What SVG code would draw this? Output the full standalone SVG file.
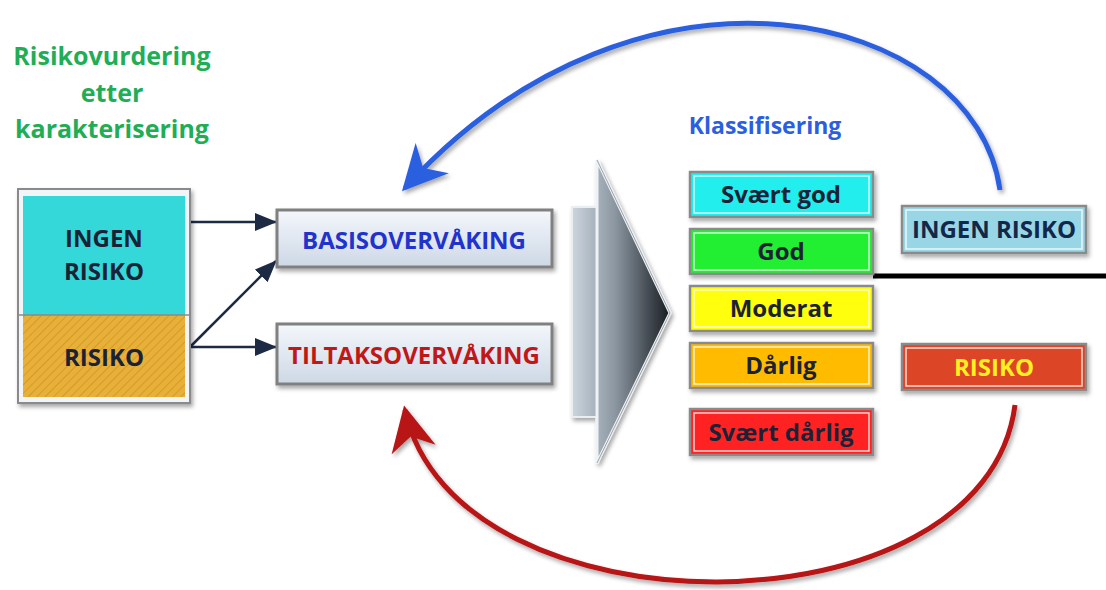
<svg xmlns="http://www.w3.org/2000/svg" width="1106" height="590" viewBox="0 0 1106 590">
<defs>
<style>
.t{font-family:"Open Sans","Noto Sans",sans-serif;font-weight:700;text-anchor:middle}
.dk{fill:#1b2236}
.cls{stroke:#8a8a8a;stroke-width:2.5}
.inner{fill:none;stroke:#ffffff;stroke-width:1.5;opacity:0.8}
.con{stroke:#1c2a44;stroke-width:2.5;fill:none}
</style>
<filter id="sh" x="-10%" y="-10%" width="130%" height="140%">
<feDropShadow dx="2" dy="3" stdDeviation="2" flood-color="#000" flood-opacity="0.35"/>
</filter>
<linearGradient id="gb" x1="0" y1="0" x2="0" y2="1">
<stop offset="0" stop-color="#f4f7fb"/>
<stop offset="1" stop-color="#cdd8e6"/>
</linearGradient>
<linearGradient id="ga" gradientUnits="userSpaceOnUse" x1="572" y1="0" x2="668" y2="0">
<stop offset="0" stop-color="#ccd5de"/>
<stop offset="0.45" stop-color="#8b96a1"/>
<stop offset="1" stop-color="#1c2126"/>
</linearGradient>
<pattern id="hatch" width="6" height="6" patternUnits="userSpaceOnUse" patternTransform="rotate(45)">
<rect width="6" height="6" fill="#e8b038"/>
<line x1="0" y1="0" x2="0" y2="6" stroke="#c99524" stroke-width="1.5"/>
</pattern>
<marker id="ah" viewBox="0 0 22 18" refX="21" refY="9" markerWidth="22" markerHeight="18" orient="auto" markerUnits="userSpaceOnUse">
<path d="M0,0 L22,9 L0,18 z" fill="#1c2a44"/>
</marker>
<marker id="bh" viewBox="0 0 20 20" refX="18" refY="10" markerWidth="9" markerHeight="9" orient="auto" markerUnits="strokeWidth">
<path d="M0,0 L20,10 L0,20 L6,10 z" fill="#2b60e0"/>
</marker>
<marker id="rh" viewBox="0 0 20 20" refX="18" refY="10" markerWidth="9" markerHeight="9" orient="auto" markerUnits="strokeWidth">
<path d="M0,0 L20,10 L0,20 L6,10 z" fill="#b81414"/>
</marker>
</defs>
<rect width="1106" height="590" fill="#ffffff"/>

<g id="title">
<text class="t" x="112" y="65" font-size="25" fill="#1fae55">Risikovurdering</text>
<text class="t" x="112" y="102" font-size="25" fill="#1fae55">etter</text>
<text class="t" x="112" y="138" font-size="25" fill="#1fae55">karakterisering</text>
</g>

<g id="connectors">
<path class="con" d="M190,222 L276,222" marker-end="url(#ah)"/>
<path class="con" d="M190,347 L276,347" marker-end="url(#ah)"/>
<path class="con" d="M190,347 L276,261" marker-end="url(#ah)"/>
<path d="M1000,190 C975,10 640,-70 405,188" fill="none" stroke="#2b60e0" stroke-width="5" marker-end="url(#bh)" filter="url(#sh)"/>
<path d="M1015,405 C985,640 455,640 405,410" fill="none" stroke="#b81414" stroke-width="5" marker-end="url(#rh)" filter="url(#sh)"/>
<path d="M873,276 L1106,276" stroke="#000" stroke-width="5"/>
</g>

<g id="risk-box" filter="url(#sh)">
<rect x="18" y="189" width="172" height="214" fill="#f2f5f7" stroke="#8a8a8a" stroke-width="2"/>
<rect x="23" y="196" width="162" height="119" fill="#35d8d8"/>
<rect x="23" y="315" width="162" height="82" fill="url(#hatch)"/>
<line x1="19" y1="315" x2="189" y2="315" stroke="#8a8a8a" stroke-width="1.5"/>
</g>
<g id="risk-box-text">
<text class="t dk" x="104" y="247" font-size="24">INGEN</text>
<text class="t dk" x="104" y="280" font-size="24">RISIKO</text>
<text class="t dk" x="104" y="366" font-size="24">RISIKO</text>
</g>

<g id="basis">
<rect x="277" y="210" width="275" height="57" fill="url(#gb)" stroke="#808080" stroke-width="3" filter="url(#sh)"/>
<text class="t" x="414" y="249" font-size="24" fill="#2233cc">BASISOVERVÅKING</text>
</g>
<g id="tiltak">
<rect x="277" y="324" width="275" height="60" fill="url(#gb)" stroke="#808080" stroke-width="3" filter="url(#sh)"/>
<text class="t" x="414" y="364" font-size="24" fill="#c01818">TILTAKSOVERVÅKING</text>
</g>

<g id="big-arrow" filter="url(#sh)">
<rect x="572" y="207" width="30" height="210" fill="url(#ga)" stroke="#e8eef2" stroke-width="2"/>
<path d="M597,160 L670,313 L597,463 Z" fill="url(#ga)" stroke="#eef2f5" stroke-width="3"/>
<path d="M597,160 L670,313 L597,463" fill="none" stroke="#9aa3ab" stroke-width="1"/>
</g>

<g id="klassifisering">
<text class="t" x="765" y="134" font-size="23" fill="#2b5fe0">Klassifisering</text>
</g>

<g id="svaert-god">
<rect x="690" y="172" width="183" height="45" fill="#22eeee" class="cls" filter="url(#sh)"/>
<rect x="694" y="176" width="175" height="37" class="inner"/>
<text class="t dk" x="781" y="203" font-size="24">Svært god</text>
</g>
<g id="god">
<rect x="690" y="229" width="183" height="45" fill="#22ee33" class="cls" filter="url(#sh)"/>
<rect x="694" y="233" width="175" height="37" class="inner"/>
<text class="t dk" x="781" y="260" font-size="24">God</text>
</g>
<g id="moderat">
<rect x="690" y="286" width="183" height="45" fill="#ffff11" class="cls" filter="url(#sh)"/>
<rect x="694" y="290" width="175" height="37" class="inner"/>
<text class="t dk" x="781" y="317" font-size="24">Moderat</text>
</g>
<g id="darlig">
<rect x="690" y="343" width="183" height="45" fill="#ffbb00" class="cls" filter="url(#sh)"/>
<rect x="694" y="347" width="175" height="37" class="inner"/>
<text class="t dk" x="781" y="374" font-size="24">Dårlig</text>
</g>
<g id="svaert-darlig">
<rect x="690" y="409" width="183" height="46" fill="#ff2424" class="cls" filter="url(#sh)"/>
<rect x="694" y="413" width="175" height="38" class="inner"/>
<text class="t dk" x="781" y="441" font-size="24">Svært dårlig</text>
</g>

<g id="ingen-risiko">
<rect x="902" y="206" width="184" height="47" fill="#98d6e6" class="cls" filter="url(#sh)"/>
<rect x="906" y="210" width="176" height="39" class="inner"/>
<text class="t" x="994" y="238" font-size="24" fill="#12284a">INGEN RISIKO</text>
</g>
<g id="risiko">
<rect x="902" y="344" width="184" height="46" fill="#dc4426" class="cls" filter="url(#sh)"/>
<rect x="906" y="348" width="176" height="38" class="inner" stroke="#f3a0a0"/>
<text class="t" x="994" y="376" font-size="24" fill="#fff022">RISIKO</text>
</g>
</svg>
